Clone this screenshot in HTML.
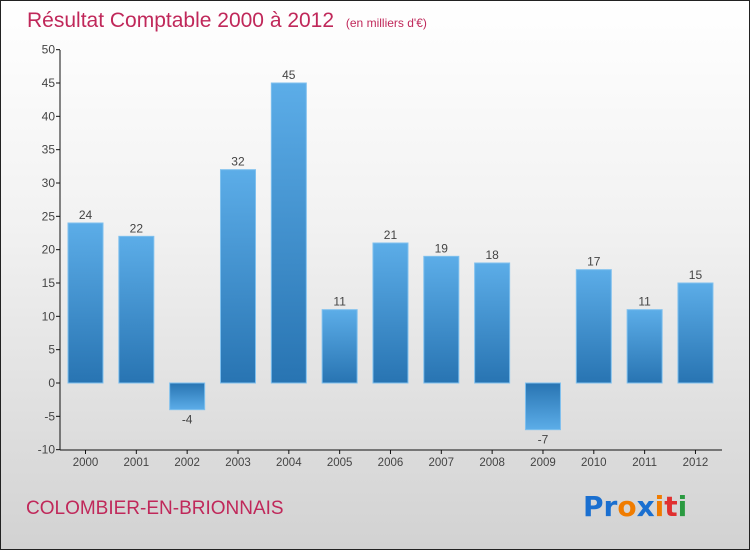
<!DOCTYPE html>
<html><head><meta charset="utf-8"><style>
body{margin:0;width:750px;height:550px;overflow:hidden;font-family:"Liberation Sans",sans-serif}
#wrap{position:absolute;left:0;top:0;width:748px;height:548px;border:1px solid #222;background:linear-gradient(#ffffff,#f2f2f2 40%,#d2d2d2)}
</style></head><body>
<div id="wrap">
<svg id="chart" width="750" height="550" style="position:absolute;left:-1px;top:-1px">
<defs>
<linearGradient id="gp" x1="0" y1="0" x2="0" y2="1"><stop offset="0" stop-color="#5cade8"/><stop offset="1" stop-color="#2874b2"/></linearGradient>
<linearGradient id="gn" x1="0" y1="0" x2="0" y2="1"><stop offset="0" stop-color="#2874b2"/><stop offset="1" stop-color="#5cade8"/></linearGradient>
</defs>
<text x="27" y="27" font-size="21" fill="#c0285a">Résultat Comptable 2000 à 2012 <tspan font-size="12" dx="6">(en milliers d'€)</tspan></text>
<text x="26" y="514" font-size="19" fill="#c0285a">COLOMBIER-EN-BRIONNAIS</text>
<g font-size="28" font-weight="bold" font-family="'DejaVu Sans',sans-serif">
<text x="583" y="516"><tspan fill="#1a6fd0">Pr</tspan><tspan fill="#f07c00">o</tspan><tspan fill="#1a6fd0">x</tspan><tspan fill="#f07c00">i</tspan><tspan fill="#e03030">t</tspan><tspan fill="#2a9a40">i</tspan></text>
</g>
<g id="axes"></g><g id="bars"></g>
</svg>
</div>
<script>
const years=["2000","2001","2002","2003","2004","2005","2006","2007","2008","2009","2010","2011","2012"];
const values=[24,22,-4,32,45,11,21,19,18,-7,17,11,15];
const yTicks=[-10,-5,0,5,10,15,20,25,30,35,40,45,50];
const NS="http://www.w3.org/2000/svg";
const y=v=>383-v*400/60;
const x=i=>68+i*50.83;
function mk(t,a,p){const e=document.createElementNS(NS,t);for(const k in a)e.setAttribute(k,a[k]);p.appendChild(e);return e;}
const ax=document.getElementById('axes'),bg=document.getElementById('bars');
const yl=mk('line',{x1:60,y1:50,x2:60,y2:450,stroke:'#111'},ax);


const xl=mk('line',{x1:60,y1:450,x2:722,y2:450,stroke:'#111'},ax);


yTicks.forEach(t=>{
 mk('line',{x1:56,y1:y(t),x2:60,y2:y(t),stroke:'#111'},ax);
 const tx=mk('text',{x:55,y:y(t)+4,'text-anchor':'end','font-size':12,fill:'#444'},ax);tx.textContent=t;
 
 
});
years.forEach((yr,i)=>{
 const cx=x(i)+17.5;
 mk('line',{x1:cx,y1:450,x2:cx,y2:454,stroke:'#111'},ax);
 const tx=mk('text',{x:cx,y:466,'text-anchor':'middle','font-size':11.5,fill:'#444'},ax);tx.textContent=yr;
 
 
 const v=values[i];
 const top=Math.min(y(v),y(0)),h=Math.abs(y(v)-y(0));
 const r=mk('rect',{x:x(i),y:top,width:35,height:h,fill:v>=0?'url(#gp)':'url(#gn)',stroke:'#7fc0ee','stroke-width':1},bg);
 
 
 const lb=mk('text',{x:cx,y:v>=0?y(v)-4:y(v)+14,'text-anchor':'middle','font-size':12,fill:'#444'},bg);lb.textContent=v;
 
 
});
</script>
</body></html>
